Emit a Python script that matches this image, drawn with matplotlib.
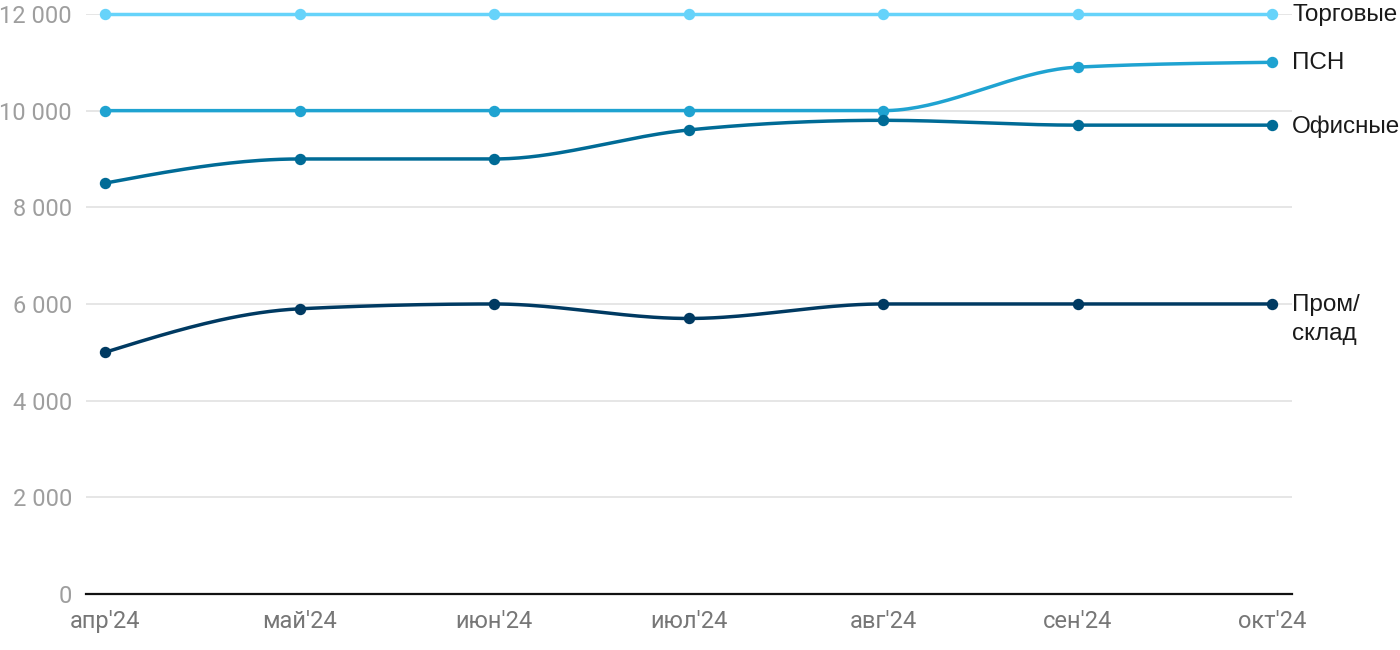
import numpy as np
import matplotlib
matplotlib.use("Agg")
import matplotlib.pyplot as plt
from matplotlib.ticker import FuncFormatter

months = ["апр'24", "май'24", "июн'24", "июл'24", "авг'24", "сен'24", "окт'24"]
torg = [12000, 12000, 12000, 12000, 12000, 12000, 12000]
psn = [10000, 10000, 10000, 10000, 10000, 10900, 11000]
office = [8500, 9000, 9000, 9600, 9800, 9700, 9700]
prom = [5000, 5900, 6000, 5700, 6000, 6000, 6000]

series_names = ["Торговые", "ПСН", "Офисные", "Пром/\nсклад"]
series_vals = [torg, psn, office, prom]
colors = ["#66d3fa", "#1fa3d1", "#006b96", "#003a62"]


def monotone_curve(x, y, n=40):
    """d3 curveMonotoneX-style interpolation for drawing."""
    x = np.asarray(x, float)
    y = np.asarray(y, float)
    h = np.diff(x)
    s = np.diff(y) / h
    m = np.zeros_like(y)
    for i in range(1, len(y) - 1):
        s0, s1 = s[i - 1], s[i]
        p = (s0 * h[i] + s1 * h[i - 1]) / (h[i - 1] + h[i])
        m[i] = (np.sign(s0) + np.sign(s1)) * min(abs(s0), abs(s1), 0.5 * abs(p))
    m[0] = (3 * s[0] - m[1]) / 2 if len(y) > 2 else s[0]
    m[-1] = (3 * s[-1] - m[-2]) / 2 if len(y) > 2 else s[-1]
    xs, ys = [], []
    for i in range(len(x) - 1):
        t = np.linspace(0, 1, n)
        x0, x1 = x[i], x[i + 1]
        dx = (x1 - x0) / 3
        p0, p3 = y[i], y[i + 1]
        p1 = p0 + dx * m[i]
        p2 = p3 - dx * m[i + 1]
        bx = (1 - t) ** 3 * x0 + 3 * (1 - t) ** 2 * t * (x0 + dx) + 3 * (1 - t) * t ** 2 * (x1 - dx) + t ** 3 * x1
        by = (1 - t) ** 3 * p0 + 3 * (1 - t) ** 2 * t * p1 + 3 * (1 - t) * t ** 2 * p2 + t ** 3 * p3
        xs.append(bx)
        ys.append(by)
    return np.concatenate(xs), np.concatenate(ys)


plt.rcParams['font.family'] = ['Roboto', 'DejaVu Sans']

fig = plt.figure(figsize=(14, 6.5), dpi=100)
ax = fig.add_axes([0.0614, 0.0862, 0.8615, 0.8923])

x = np.arange(len(months))
for name, vals, c in zip(series_names, series_vals, colors):
    cx, cy = monotone_curve(x, vals)
    ax.plot(cx, cy, color=c, lw=2.5, solid_capstyle='round', zorder=3, clip_on=False)
    ax.plot(x, vals, 'o', color=c, ms=7.2, zorder=4, clip_on=False)

ax.set_xlim(-0.098, 6.103)
ax.set_ylim(0, 12000)
ax.set_yticks(np.arange(0, 12001, 2000))
ax.yaxis.set_major_formatter(FuncFormatter(lambda v, p: f"{int(v):,}".replace(",", " ")))
ax.set_xticks(x)
ax.set_xticklabels(months)
ax.grid(axis='y', color='#e2e2e2', lw=1.2, zorder=0)
ax.grid(axis='x', visible=False)
for sp in ['top', 'right', 'left']:
    ax.spines[sp].set_visible(False)
ax.spines['bottom'].set_color('#111111')
ax.spines['bottom'].set_linewidth(1.6)
ax.spines['bottom'].set_zorder(5)
ax.tick_params(axis='y', length=0, pad=10, labelsize=17, labelcolor='#9e9e9e')
ax.tick_params(axis='x', length=0, pad=11.5, labelsize=17, labelcolor='#777777')

for name, vals, c in zip(series_names, series_vals, colors):
    lines = name.split("\n")
    for k, ln in enumerate(lines):
        ax.annotate(ln, xy=(1.0, vals[-1]), xycoords=('axes fraction', 'data'),
                    xytext=(0, -20.5 * k - 0.8), textcoords='offset points',
                    ha='left', va='center', fontsize=17.5, color='#1a1a1a',
                    family=['Liberation Sans', 'DejaVu Sans'], annotation_clip=False)

fig.savefig("out.png", dpi=100)
